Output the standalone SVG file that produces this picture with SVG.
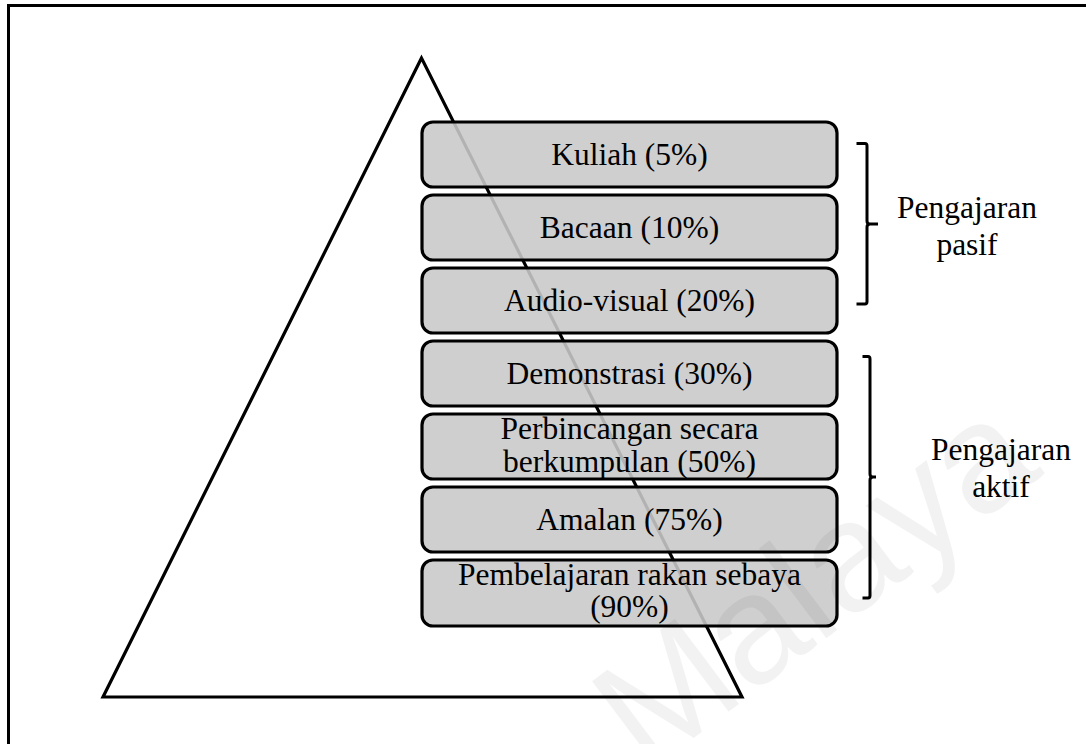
<svg xmlns="http://www.w3.org/2000/svg" width="1086" height="744" viewBox="0 0 1086 744">
  <style>
    .frame { fill: none; stroke: #000; stroke-width: 3; }
    .pyramid { fill: none; stroke: #000; stroke-width: 3.2; stroke-linejoin: miter; }
    .box { fill: #c9c9c9; fill-opacity: 0.885; stroke: #000; stroke-width: 3.2; }
    .label { font-family: "Liberation Serif", "Times New Roman", serif; font-size: 31.5px; fill: #000; text-anchor: middle; }
    .brace { fill: none; stroke: #000; stroke-width: 3; stroke-linecap: butt; stroke-linejoin: round; }
    .mark { font-family: "Liberation Sans", Arial, sans-serif; font-size: 155px; fill: #000; fill-opacity: 0.05; }
  </style>

  <rect width="1086" height="744" fill="#fff"/>

  <!-- outer frame (right and bottom sides run past the canvas) -->
  <rect class="frame" x="8.5" y="5.5" width="1100" height="780"/>

  <!-- pyramid outline behind the levels -->
  <polygon id="pyramid" class="pyramid" points="421.5,58 103,697 742,697"/>

  <!-- levels of the pyramid -->
  <g id="kuliah">
    <rect class="box" x="422" y="122" width="415" height="65" rx="11"/>
    <text class="label" x="629.5" y="165">Kuliah (5%)</text>
  </g>
  <g id="bacaan">
    <rect class="box" x="422" y="195" width="415" height="65" rx="11"/>
    <text class="label" x="629.5" y="238">Bacaan (10%)</text>
  </g>
  <g id="audio-visual">
    <rect class="box" x="422" y="268" width="415" height="65" rx="11"/>
    <text class="label" x="629.5" y="311">Audio-visual (20%)</text>
  </g>
  <g id="demonstrasi">
    <rect class="box" x="422" y="341" width="415" height="65" rx="11"/>
    <text class="label" x="629.5" y="384">Demonstrasi (30%)</text>
  </g>
  <g id="perbincangan">
    <rect class="box" x="422" y="414" width="415" height="65" rx="11"/>
    <text class="label" x="629.5" y="439">Perbincangan secara</text>
    <text class="label" x="629.5" y="472">berkumpulan (50%)</text>
  </g>
  <g id="amalan">
    <rect class="box" x="422" y="487" width="415" height="65" rx="11"/>
    <text class="label" x="629.5" y="530">Amalan (75%)</text>
  </g>
  <g id="pembelajaran">
    <rect class="box" x="422" y="560" width="415" height="66" rx="11"/>
    <text class="label" x="629.5" y="585">Pembelajaran rakan sebaya</text>
    <text class="label" x="629.5" y="617">(90%)</text>
  </g>

  <!-- grouping braces -->
  <g id="connectors">
    <path class="brace" d="M856.5,143.5 H865 Q867,143.5 867,146 V221 Q867,224 870,224 H878 M870,224 Q867,224 867,227 V301.5 Q867,304 865,304 H856.5"/>
    <path class="brace" d="M862.5,356.5 H868 Q870,356.5 870,359 V474 Q870,477 873,477 H876 M873,477 Q870,477 870,480 V595.5 Q870,598 868,598 H862.5"/>
  </g>

  <g id="pasif">
    <text class="label" x="967" y="218">Pengajaran</text>
    <text class="label" x="967" y="255">pasif</text>
  </g>
  <g id="aktif">
    <text class="label" x="1001" y="460">Pengajaran</text>
    <text class="label" x="1001" y="497">aktif</text>
  </g>

  <!-- faint repository watermark -->
  <text class="mark" transform="translate(646,774) rotate(-37)">Malaya</text>
</svg>
